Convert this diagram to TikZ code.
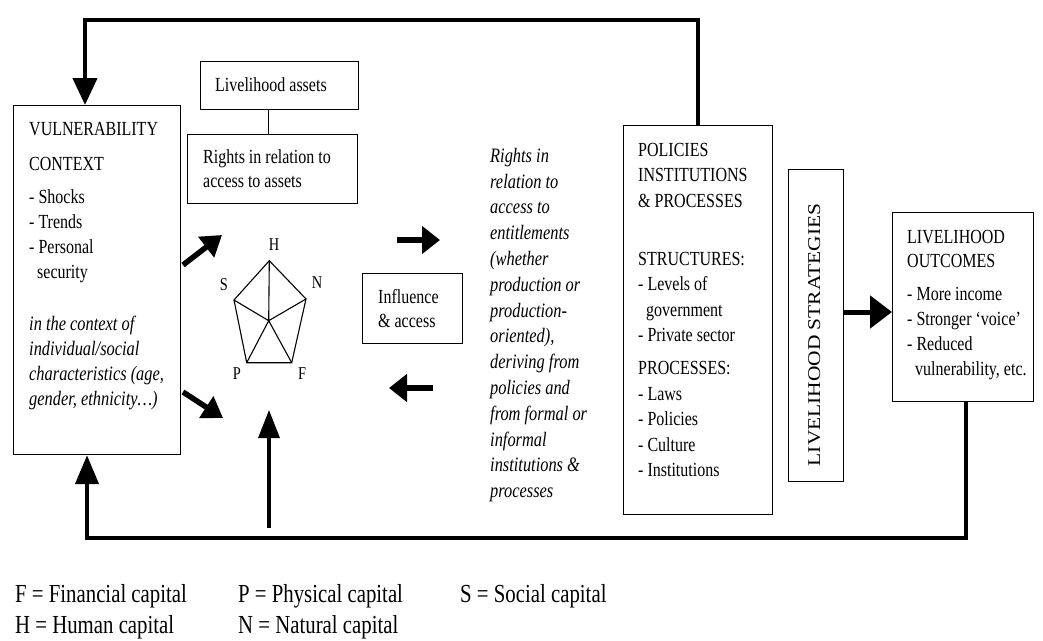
\documentclass[tikz,border=0pt]{standalone}
\usepackage{fontspec}
\setmainfont{Liberation Serif}[FakeStretch=0.8]
\newfontfamily\rotfont{Liberation Serif}[FakeStretch=1.19]
\usetikzlibrary{arrows.meta,calc}
\begin{document}
\begin{tikzpicture}[x=1pt,y=-1pt,
  box/.style={draw, line width=1.2pt, inner sep=0pt, anchor=north west},
  txt/.style={anchor=north west, inner sep=0pt, align=left, font=\fontsize{20}{25}\selectfont},
  itxt/.style={anchor=north west, inner sep=0pt, align=left, font=\fontsize{20.5}{25}\selectfont\itshape},
  oneline/.style={anchor=base west, inner sep=0pt, font=\fontsize{20}{25}\selectfont},
  leg/.style={anchor=base west, inner sep=0pt, font=\fontsize{26}{31}\selectfont},
  plab/.style={inner sep=0pt, font=\fontsize{18}{18}\selectfont},
  fb/.style={line width=4.3pt},
  bigarrow/.style={line width=5.5pt, -{Triangle[length=18pt,width=27pt]}},
  thinline/.style={line width=1pt}
]
\useasboundingbox (0,0) rectangle (1043,640);

% ---------- boxes ----------
\node[box, minimum width=167pt, minimum height=349pt] (vul) at (13,105) {};
\node[box, minimum width=158pt, minimum height=48pt] (assets) at (200,61) {};
\node[box, minimum width=170pt, minimum height=69pt] (rights) at (187,134) {};
\node[box, minimum width=100pt, minimum height=70pt] (infl) at (362,273) {};
\node[box, minimum width=149pt, minimum height=389pt] (pol) at (623,125) {};
\node[box, minimum width=55pt, minimum height=312pt] (str) at (788,169) {};
\node[box, minimum width=141pt, minimum height=189pt] (out) at (892,212) {};

% ---------- texts ----------
\node[txt] (vultxt) at (29,115) {\rule{0pt}{20pt}VULNERABILITY\\[10pt]
  CONTEXT\\[8pt] - Shocks\\ - Trends\\ - Personal\\ \hspace*{8pt}security};
\node[itxt] (vulit) at (29,310) {\rule{0pt}{20pt}in the context of\\
  individual/social\\ characteristics (age,\\ gender, ethnicity…)};

\node[oneline] (assetstxt) at (215,91) {Livelihood assets};
\node[txt, font=\fontsize{20}{24}\selectfont] (rightstxt) at (203,143)
  {\rule{0pt}{20pt}Rights in relation to\\ access to assets};
\node[txt, font=\fontsize{20}{24}\selectfont] (infltxt) at (378,283)
  {\rule{0pt}{20pt}Influence\\ \& access};

\node[itxt, font=\fontsize{20.5}{25.8}\selectfont\itshape] (midtxt) at (490,142)
  {\rule{0pt}{20pt}Rights in\\ relation to\\ access to\\ entitlements\\ (whether\\
   production or\\ production-\\ oriented),\\ deriving from\\ policies and\\
   from formal or\\ informal\\ institutions \&\\ processes};

\node[txt, font=\fontsize{20}{25.5}\selectfont] (poltxt) at (638,136)
  {\rule{0pt}{20pt}POLICIES\\ INSTITUTIONS\\ \& PROCESSES\\[32.5pt]
   STRUCTURES:\\ - Levels of\\ \hspace*{8pt}government\\ - Private sector\\[7.5pt]
   PROCESSES:\\ - Laws\\ - Policies\\ - Culture\\ - Institutions};

\node[rotate=90, anchor=base, inner sep=0pt, font=\rotfont\fontsize{18}{18}\selectfont]
  (strtxt) at (820,335) {LIVELIHOOD STRATEGIES};

\node[txt] (outtxt) at (907,223)
  {\rule{0pt}{20pt}LIVELIHOOD\\[-1pt] OUTCOMES\\[8pt] - More income\\
   - Stronger ‘voice’\\ - Reduced\\ \hspace*{8pt}vulnerability, etc.};

% ---------- pentagon ----------
\coordinate (pH) at (269.3,260.7);
\coordinate (pN) at (306,299);
\coordinate (pS) at (234,300);
\coordinate (pP) at (246.7,362.7);
\coordinate (pF) at (291.7,362.7);
\coordinate (pC) at (268.7,320.7);
\draw[line width=1.1pt, line join=miter] (pH) -- (pN) -- (pF) -- (pP) -- (pS) -- cycle;
\draw[line width=1.1pt] (pC) -- (pH) (pC) -- (pN) (pC) -- (pF) (pC) -- (pP) (pC) -- (pS);
\node[plab] (lH) at (274,245) {H};
\node[plab] (lN) at (317,283) {N};
\node[plab] (lS) at (224,285) {S};
\node[plab] (lP) at (237,374) {P};
\node[plab] (lF) at (302,374) {F};

% ---------- connectors ----------
\draw[thinline] ([xshift=68pt]assets.south west) -- ([xshift=81pt]rights.north west);

\coordinate (topy) at (0,20);
\coordinate (boty) at (0,538);
\draw[fb, -{Triangle[length=27pt,width=24pt]}]
  (pol.north) -- (pol.north |- topy) -| ([xshift=72pt]vul.north west);
\draw[fb, -{Triangle[length=29pt,width=23pt]}]
  ([xshift=74pt]out.south west) -- ([xshift=74pt]out.south west |- boty)
  -| ([xshift=74pt]vul.south west);

\coordinate (ay) at (0,312);
\draw[line width=5pt, -{Triangle[length=22pt,width=32pt]}] (str.east |- ay) -- (out.west |- ay);

\coordinate (ua1) at (183,265); \coordinate (ua2) at (222,235);
\coordinate (la1) at (183,392); \coordinate (la2) at (223,418);
\draw[bigarrow, -{Triangle[length=20pt,width=25pt]}] (ua1) -- (ua2);
\draw[bigarrow, -{Triangle[length=20pt,width=25pt]}] (la1) -- (la2);

\coordinate (ra1) at (397,240); \coordinate (ra2) at (440,240);
\coordinate (lb1) at (433,388); \coordinate (lb2) at (389,388);
\draw[bigarrow] (ra1) -- (ra2);
\draw[bigarrow] (lb1) -- (lb2);

\coordinate (pa1) at (269,528); \coordinate (pa2) at (269,410);
\draw[line width=3.3pt, -{Triangle[length=28pt,width=21pt]}] (pa1) -- (pa2);

% ---------- legend ----------
\node[leg] (legF) at (15,602) {F = Financial capital};
\node[leg] (legP) at (238,602) {P = Physical capital};
\node[leg] (legS) at (460,602) {S = Social capital};
\node[leg] (legH) at (15,633) {H = Human capital};
\node[leg] (legN) at (238,633) {N = Natural capital};
\end{tikzpicture}
\end{document}
